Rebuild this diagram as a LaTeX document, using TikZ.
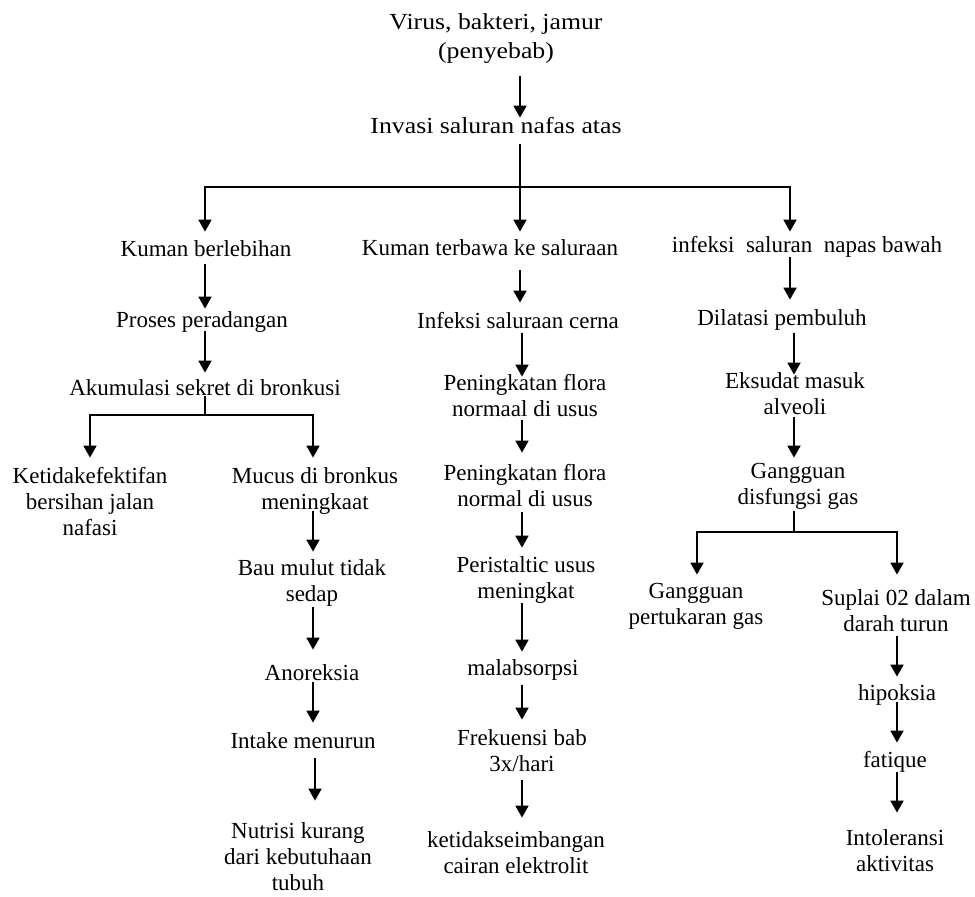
\documentclass[tikz,border=0pt]{standalone}
\usepackage{fontspec}
\setmainfont{Liberation Serif}
\usepackage{graphicx}
\usetikzlibrary{arrows.meta}
% centred stack of lines, baseline on the first line
\newcommand\ml[1]{\begin{tabular}[t]{@{}c@{}}#1\end{tabular}}
\begin{document}
\begin{tikzpicture}[x=1pt,y=-1pt,
  lbl/.style={anchor=base,inner sep=0pt,font=\fontsize{23}{26}\selectfont},
  arr/.style={line width=1.8pt,-{Triangle[length=12pt,width=13pt]}},
  ln/.style={line width=1.4pt,line cap=rect}]
\fill[white] (0,0) rectangle (975,897);
\useasboundingbox (0,0) rectangle (975,897);

% arrow columns
\coordinate (xa) at (205,0);
\coordinate (xk) at (90,0);
\coordinate (xb) at (313,0);
\coordinate (xc) at (522,0);
\coordinate (xr) at (790,0);
\coordinate (xd) at (794,0);
\coordinate (xg) at (697,0);
\coordinate (xs) at (897,0);
% junctions of the branching bars
\coordinate (j1) at (520,187);
\coordinate (j2) at (205,415);
\coordinate (j3) at (794,532);

% top
\node[lbl] (v1) at (496,29) {\scalebox{1.12}[1]{\ml{Virus, bakteri, jamur\\[3pt](penyebab)}}};
\node[lbl] (inv) at (496,133) {\scalebox{1.12}[1]{\ml{Invasi saluran nafas atas}}};

% three main branches
\node[lbl] (kb) at (206,256) {\ml{Kuman berlebihan}};
\node[lbl] (kt) at (490,255) {\ml{Kuman terbawa ke saluraan}};
\node[lbl] (inb) at (807,252) {\ml{infeksi\ \ saluran\ \ napas bawah}};

% left branch
\node[lbl] (pp) at (202,327) {\ml{Proses peradangan}};
\node[lbl] (ak) at (205,395) {\ml{Akumulasi sekret di bronkusi}};
\node[lbl] (kj) at (90,483) {\ml{Ketidakefektifan\\bersihan jalan\\nafasi}};
\node[lbl] (mc) at (315,483) {\ml{Mucus di bronkus\\meningkaat}};
\node[lbl] (bm) at (312,575) {\ml{Bau mulut tidak\\sedap}};
\node[lbl] (an) at (312,680) {\ml{Anoreksia}};
\node[lbl] (im) at (303,748) {\ml{Intake menurun}};
\node[lbl] (nk) at (298,838) {\ml{Nutrisi kurang\\dari kebutuhaan\\tubuh}};

% middle branch
\node[lbl] (isc) at (518,328) {\ml{Infeksi saluraan cerna}};
\node[lbl] (pf1) at (525,390) {\ml{Peningkatan flora\\normaal di usus}};
\node[lbl] (pf2) at (525,480) {\ml{Peningkatan flora\\normal di usus}};
\node[lbl] (pu) at (526,572) {\ml{Peristaltic usus\\meningkat}};
\node[lbl] (ma) at (523,675) {\ml{malabsorpsi}};
\node[lbl] (fb) at (522,745) {\ml{Frekuensi bab\\3x/hari}};
\node[lbl] (ke) at (516,847) {\ml{ketidakseimbangan\\cairan elektrolit}};

% right branch
\node[lbl] (dp) at (782,325) {\ml{Dilatasi pembuluh}};
\node[lbl] (em) at (795,388) {\ml{Eksudat masuk\\alveoli}};
\node[lbl] (gd) at (798,478) {\ml{Gangguan\\disfungsi gas}};
\node[lbl] (gp) at (696,598) {\ml{Gangguan\\pertukaran gas}};
\node[lbl] (sp) at (896,605) {\ml{Suplai 02 dalam\\darah turun}};
\node[lbl] (hp) at (897,700) {\ml{hipoksia}};
\node[lbl] (ft) at (895,767) {\ml{fatique}};
\node[lbl] (ia) at (895,845) {\ml{Intoleransi\\aktivitas}};

% connectors: top
\draw[arr,shorten <=10pt,shorten >=-3pt] (v1.south -| j1) -- (inv.north -| j1);
\draw[ln,shorten <=4pt] (inv.south -| j1) -- (j1);
\draw[ln] (j1 -| xa) -- (j1 -| xr);
\draw[arr,shorten >=6pt] (j1 -| xa) -- (kb.north -| xa);
\draw[arr,shorten >=5pt] (j1) -- (kt.north -| j1);
\draw[arr,shorten >=2pt] (j1 -| xr) -- (inb.north -| xr);

% connectors: left
\draw[arr] (kb.south -| xa) -- (pp.north -| xa);
\draw[arr,shorten <=-4pt,shorten >=4pt] (pp.south -| xa) -- (ak.north -| xa);
\draw[ln,line width=1.2pt,shorten <=-6pt] (ak.south -| j2) -- (j2);
\draw[ln] (j2 -| xk) -- (j2 -| xb);
\draw[arr,shorten >=7pt] (j2 -| xk) -- (kj.north -| xk);
\draw[arr,shorten >=7pt] (j2 -| xb) -- (mc.north -| xb);
\draw[arr,shorten <=-6pt,shorten >=5pt] (mc.south -| xb) -- (bm.north -| xb);
\draw[arr,shorten <=-2pt,shorten >=12pt] (bm.south -| xb) -- (an.north -| xb);
\draw[arr,shorten <=-6pt,shorten >=7pt] (an.south -| xb) -- (im.north -| xb);
\draw[arr,shorten <=2pt,shorten >=19pt] ([xshift=2pt]im.south -| xb) -- ([xshift=2pt]nk.north -| xb);

% connectors: middle
\draw[arr,shorten <=7pt,shorten >=7pt] (kt.south -| j1) -- (isc.north -| j1);
\draw[arr,shorten <=-3pt,shorten >=-5pt] (isc.south -| xc) -- (pf1.north -| xc);
\draw[arr,shorten <=-4pt,shorten >=9pt] (pf1.south -| xc) -- (pf2.north -| xc);
\draw[arr,shorten <=-2pt,shorten >=6pt] (pf2.south -| xc) -- (pu.north -| xc);
\draw[arr,shorten <=-3pt,shorten >=5pt] (pu.south -| xc) -- (ma.north -| xc);
\draw[arr,shorten <=2pt,shorten >=7pt] (ma.south -| xc) -- (fb.north -| xc);
\draw[arr,shorten <=1pt,shorten >=11pt] (fb.south -| xc) -- (ke.north -| xc);

% connectors: right
\draw[arr,shorten <=-3pt,shorten >=7pt] (inb.south -| xr) -- (dp.north -| xr);
\draw[arr,shorten >=-5pt] (dp.south -| xd) -- (em.north -| xd);
\draw[arr,shorten <=-5pt,shorten >=2pt] (em.south -| xd) -- (gd.north -| xd);
\draw[ln,line width=1.2pt] (gd.south -| j3) -- (j3);
\draw[ln] (j3 -| xg) -- (j3 -| xs);
\draw[arr,shorten >=5pt] (j3 -| xg) -- (gp.north -| xg);
\draw[arr,shorten >=12pt] (j3 -| xs) -- (sp.north -| xs);
\draw[arr,shorten <=-3pt,shorten >=5pt] (sp.south -| xs) -- (hp.north -| xs);
\draw[arr,shorten <=-6pt,shorten >=6pt] (hp.south -| xs) -- (ft.north -| xs);
\draw[arr,shorten <=-3pt,shorten >=14pt] (ft.south -| xs) -- (ia.north -| xs);
\end{tikzpicture}
\end{document}
